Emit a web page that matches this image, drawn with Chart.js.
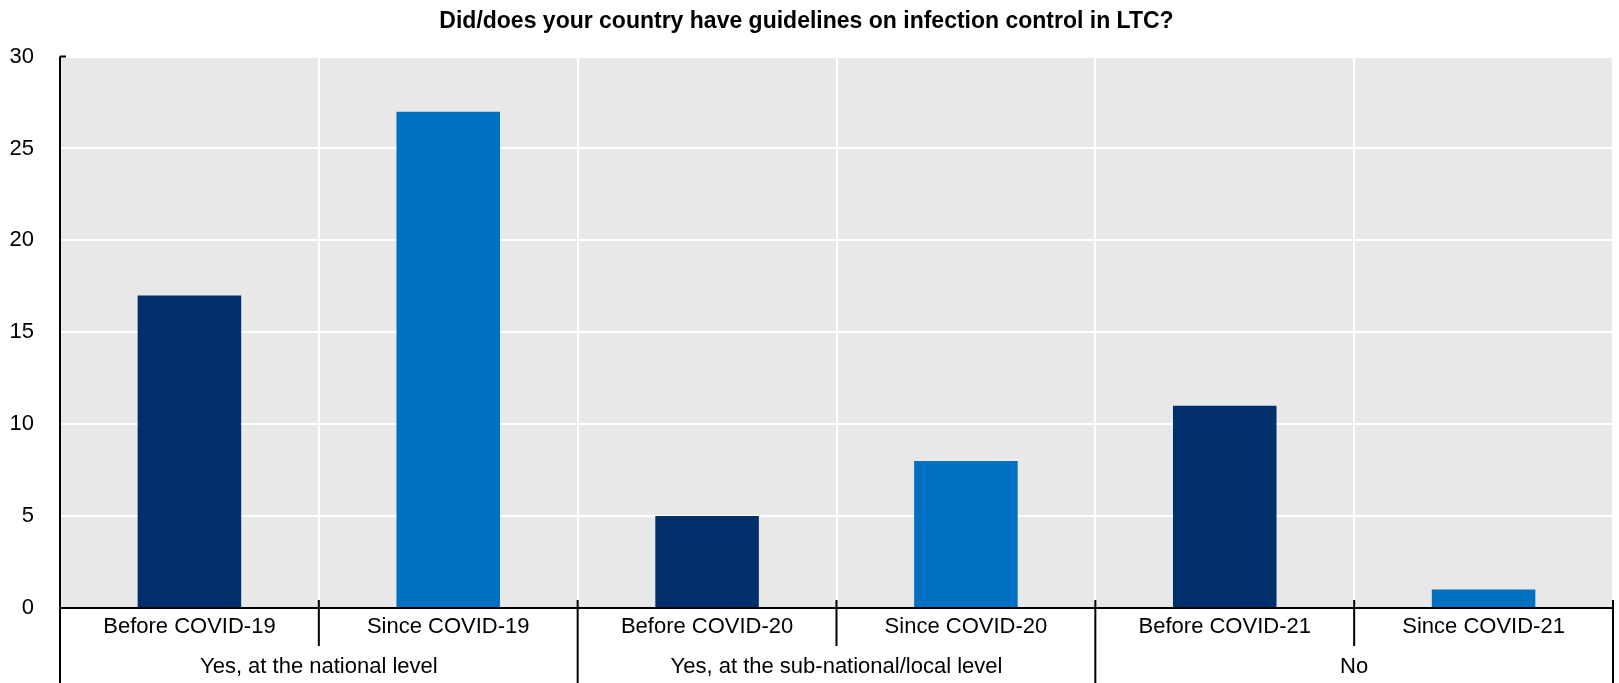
<!DOCTYPE html>
<html>
<head>
<meta charset="utf-8">
<script src="https://cdn.jsdelivr.net/npm/chart.js@4"></script>
<style>
  html, body { margin: 0; padding: 0; background: #fff; }
  #wrap { width: 1619px; height: 683px; }
</style>
</head>
<body>
<div id="wrap"><canvas id="grafico" width="1619" height="683"></canvas></div>
<script>
// dados
const categorias = ["Before COVID-19", "Since COVID-19", "Before COVID-20", "Since COVID-20", "Before COVID-21", "Since COVID-21"];
const grupos = ["Yes, at the national level", "Yes, at the sub-national/local level", "No"];
const valores = [17, 27, 5, 8, 11, 1];
const cores = ["#002f6c", "#0070c0", "#002f6c", "#0070c0", "#002f6c", "#0070c0"];
const ticksY = [0, 5, 10, 15, 20, 25, 30];

const fonte = '"Liberation Sans Narrow", "Arial Narrow", "Liberation Sans", Arial, sans-serif';

// fundo cinza da área do gráfico + linhas pretas dos eixos
const fundoPlugin = {
  id: "fundo",
  beforeDraw(chart) {
    const { ctx, chartArea: a } = chart;
    ctx.save();
    ctx.fillStyle = "#e8e8e8";
    ctx.fillRect(a.left, a.top, a.right - a.left, a.bottom - a.top);
    ctx.restore();
  },
  afterDraw(chart) {
    const { ctx, chartArea: a } = chart;
    const x = chart.scales.x;
    const h = chart.height;
    ctx.save();
    ctx.strokeStyle = "#000";
    ctx.lineWidth = 2;
    ctx.beginPath();
    // eixo esquerdo até o fim do canvas
    ctx.moveTo(a.left, a.top);
    ctx.lineTo(a.left, h);
    ctx.moveTo(a.left, a.top);
    ctx.lineTo(a.left + 6, a.top);
    // eixo horizontal
    ctx.moveTo(a.left, a.bottom);
    ctx.lineTo(a.right, a.bottom);
    // borda direita
    ctx.moveTo(a.right, a.bottom - 8);
    ctx.lineTo(a.right, h);
    // separadores entre categorias
    for (let i = 1; i < categorias.length; i++) {
      const xp = (x.getPixelForValue(i - 1) + x.getPixelForValue(i)) / 2;
      const fimGrupo = i % 2 === 0;
      ctx.moveTo(xp, a.bottom - 8);
      ctx.lineTo(xp, fimGrupo ? h : a.bottom + 38);
    }
    ctx.stroke();
    ctx.restore();
  }
};

const ctx = document.getElementById("grafico").getContext("2d");
const grafico = new Chart(ctx, {
  type: "bar",
  data: {
    labels: categorias,
    datasets: [{
      data: valores,
      backgroundColor: cores,
      barPercentage: 0.4,
      categoryPercentage: 1
    }]
  },
  options: {
    responsive: false,
    animation: false,
    layout: { padding: { left: 0, right: 6, top: 0, bottom: 0 } },
    plugins: {
      legend: { display: false },
      tooltip: { enabled: false },
      title: {
        display: true,
        text: "Did/does your country have guidelines on infection control in LTC?",
        color: "#000",
        font: { family: fonte, size: 23, weight: "bold" },
        padding: { top: 8, bottom: 21 }
      }
    },
    scales: {
      x: {
        offset: true,
        grid: { offset: true, color: "#ffffff", lineWidth: 2, drawTicks: false },
        border: { display: false },
        ticks: { color: "#000", font: { family: fonte, size: 22 }, padding: 6, maxRotation: 0 },
        afterFit(s) { s.height = 38; }
      },
      x2: {
        type: "category",
        labels: grupos,
        position: "bottom",
        weight: 1,
        offset: true,
        grid: { display: false, drawTicks: false },
        border: { display: false },
        ticks: { color: "#000", font: { family: fonte, size: 22 }, padding: 8, maxRotation: 0 },
        afterFit(s) { s.height = 37; }
      },
      y: {
        min: 0,
        max: 30,
        afterBuildTicks(s) { s.ticks = ticksY.map(v => ({ value: v })); },
        grid: { color: "#ffffff", lineWidth: 2, drawTicks: false },
        border: { display: false },
        ticks: { color: "#000", font: { family: fonte, size: 22 }, padding: 26 },
        afterFit(s) { s.width = 60; }
      }
    }
  },
  plugins: [fundoPlugin]
});
</script>
</body>
</html>
